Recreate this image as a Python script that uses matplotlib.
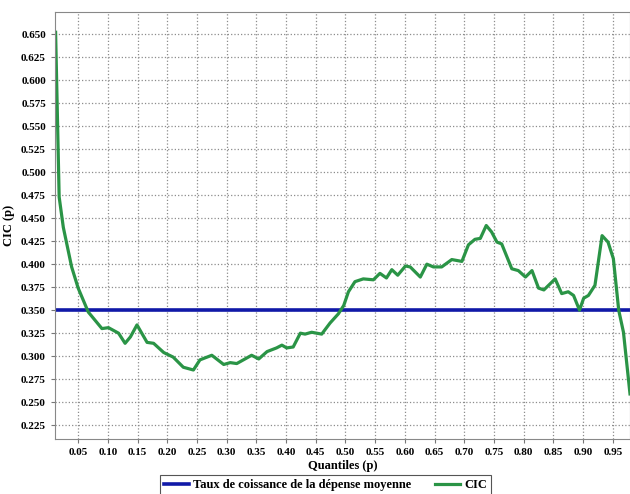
import numpy as np
import matplotlib.pyplot as plt

# quantiles p et valeurs de la courbe CIC
quantiles = [0.012, 0.018, 0.025, 0.039, 0.050, 0.067, 0.090, 0.101, 0.118, 0.129,
             0.138, 0.149, 0.166, 0.177, 0.194, 0.210, 0.227, 0.244, 0.255, 0.275,
             0.295, 0.306, 0.317, 0.342, 0.354, 0.368, 0.384, 0.393, 0.401, 0.412,
             0.424, 0.432, 0.443, 0.460, 0.474, 0.488, 0.497, 0.505, 0.516, 0.530,
             0.547, 0.558, 0.569, 0.578, 0.588, 0.601, 0.609, 0.626, 0.637, 0.648,
             0.662, 0.679, 0.696, 0.707, 0.718, 0.727, 0.737, 0.746, 0.755, 0.763,
             0.780, 0.791, 0.803, 0.814, 0.825, 0.834, 0.853, 0.864, 0.875, 0.884,
             0.894, 0.901, 0.909, 0.920, 0.932, 0.942, 0.951, 0.960, 0.968, 0.979]
cic = [0.652, 0.473, 0.440, 0.397, 0.374, 0.348, 0.330, 0.331, 0.325, 0.314,
       0.321, 0.334, 0.315, 0.314, 0.304, 0.299, 0.288, 0.285, 0.296, 0.301,
       0.291, 0.293, 0.292, 0.301, 0.297, 0.305, 0.309, 0.312, 0.309, 0.310,
       0.325, 0.324, 0.326, 0.324, 0.336, 0.346, 0.355, 0.370, 0.381, 0.384,
       0.383, 0.390, 0.385, 0.394, 0.388, 0.398, 0.397, 0.386, 0.400, 0.397,
       0.397, 0.405, 0.403, 0.421, 0.427, 0.428, 0.442, 0.435, 0.424, 0.422,
       0.395, 0.393, 0.386, 0.393, 0.374, 0.372, 0.384, 0.368, 0.370, 0.366,
       0.350, 0.363, 0.366, 0.377, 0.431, 0.424, 0.406, 0.350, 0.326, 0.259]
taux_moyen = 0.350

x_ticks = np.arange(0.05, 0.951, 0.05)
y_ticks = np.arange(0.225, 0.651, 0.025)

plt.rcParams['font.family'] = 'Liberation Serif'
plt.rcParams['font.weight'] = 'bold'

fig = plt.figure(figsize=(6.3, 4.94), dpi=100)
ax = fig.add_axes([0.0873, 0.1113, 0.9127, 0.8644])

ax.axhline(taux_moyen, color='#1019a8', linewidth=2.6,
           label='Taux de coissance de la dépense moyenne')
ax.plot(quantiles, cic, color='#2a9446', linewidth=2.3, label='CIC')

ax.set_xlim(0.011, 0.979)
ax.set_ylim(0.21, 0.674)
ax.set_xticks(x_ticks)
ax.set_xticklabels(['%.2f' % t for t in x_ticks])
ax.set_yticks(y_ticks)
ax.set_yticklabels(['%.3f' % t for t in y_ticks])
ax.tick_params(labelsize=8, length=3, color='#777777')
ax.grid(True, linestyle=':', color='#8c8c8c', linewidth=0.9)
for s in ax.spines.values():
    s.set_color('#888888')

ax.set_xlabel('Quantiles (p)', fontsize=9, fontweight='bold', labelpad=2)
ax.set_ylabel('CIC (p)', fontsize=9, fontweight='bold')

leg = ax.legend(loc='upper center', bbox_to_anchor=(0.471, -0.085), ncol=2,
                fontsize=9, fancybox=False, edgecolor='#555555', framealpha=1,
                handlelength=2.0, handletextpad=0.35, columnspacing=1.9,
                borderpad=0.3, borderaxespad=0)
leg.get_frame().set_linewidth(0.8)

fig.savefig('out.png', dpi=100)
